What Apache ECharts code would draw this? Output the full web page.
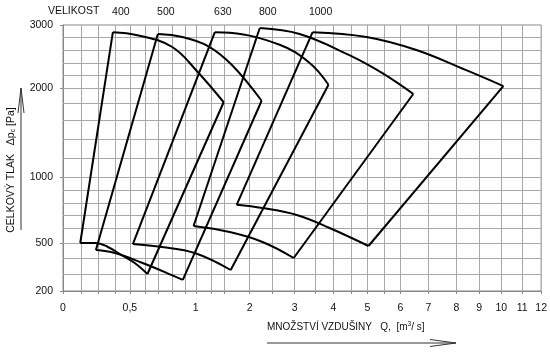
<!DOCTYPE html>
<html>
<head>
<meta charset="utf-8">
<script src="https://cdn.jsdelivr.net/npm/echarts@6/dist/echarts.min.js"></script>
<style>
html,body{margin:0;padding:0;background:#fff;}
#main{width:550px;height:352px;}
</style>
</head>
<body>
<div id="main"></div>
<script>
// velikost (fan size)
const sizes = ['400', '500', '630', '800', '1000'];

// [Q m3/s, dp Pa]  top curve: from top-left corner to right corner
const top400 = [[0.36, 2880], [0.55, 2830], [0.8, 2650], [1.03, 2250], [1.48, 1810]];
const top500 = [[0.7, 2850], [0.88, 2800], [1.19, 2660], [1.64, 2370], [2.26, 1830]];
const top630 = [[1.31, 2880], [1.6, 2870], [2.66, 2680], [3.36, 2400], [3.86, 2050]];
const top800 = [[2.22, 2950], [3.12, 2850], [4.44, 2520], [5.44, 2230], [6.46, 1920]];
const top1000 = [[3.43, 2880], [4.97, 2800], [6.57, 2600], [8.43, 2280], [10.1, 2030]];

// bottom curve: from bottom corner to bottom-left corner
const bottom400 = [[0.62, 300], [0.53, 370], [0.43, 420], [0.32, 475], [0.235, 500], [0.12, 500]];
const bottom500 = [[0.885, 265], [0.75, 312], [0.58, 370], [0.375, 433], [0.235, 453]];
const bottom630 = [[1.62, 325], [0.99, 433], [0.73, 473], [0.52, 493]];
const bottom800 = [[2.98, 400], [2.28, 507], [1.6, 573], [0.98, 615]];
const bottom1000 = [[5.03, 480], [3.89, 600], [3.05, 700], [2.28, 758], [1.74, 785]];

const tops = [top400, top500, top630, top800, top1000];
const bottoms = [bottom400, bottom500, bottom630, bottom800, bottom1000];

// axis ticks / labels
const qTicks = [0, 0.5, 1, 2, 3, 4, 5, 6, 7, 8, 9, 10, 11, 12];
const qLabels = ['0', '0,5', '1', '2', '3', '4', '5', '6', '7', '8', '9', '10', '11', '12'];
const pTicks = [200, 500, 1000, 2000, 3000];
const qGrid = [0.125, 0.25, 0.375, 0.5, 0.6, 0.7, 0.8, 0.9, 1, 1.25, 1.5, 2, 2.5, 3, 3.5, 4, 4.5, 5, 5.5, 6, 7, 8, 9, 10, 11];
const pGrid = [300, 400, 500, 600, 700, 800, 900, 1000, 1200, 1400, 1600, 1800, 2000, 2200, 2400, 2600, 2800];

// the paper scale is neither linear nor log: [value, axis unit]
const qScale = [[0,0],[0.125,18],[0.25,35],[0.375,52],[0.5,67],[0.6,82],[0.7,95],[0.8,109],[0.9,122],[1,133],
    [1.25,149],[1.5,162],[2,187],[2.5,210],[3,232],[3.5,253],[4,271],[4.5,289],[5,305],[5.5,322],[6,338],
    [7,366],[8,394],[9,417],[10,439],[11,460],[12,479]];
const pScale = [[200,0],[300,17],[400,33],[500,48],[600,63],[700,76],[800,88],[900,101],[1000,114],
    [1200,133],[1400,152],[1600,171],[1800,188],[2000,203],[2200,216],[2400,228],[2600,241],[2800,254],[3000,266]];

const interp = (scale, v) => {
    for (let i = 1; i < scale.length; i++) {
        let [v0, a0] = scale[i - 1], [v1, a1] = scale[i];
        if (v <= v1) return a0 + (v - v0) / (v1 - v0) * (a1 - a0);
    }
    return scale[scale.length - 1][1];
};
const toAxis = ([q, p]) => [interp(qScale, q), interp(pScale, p)];

const qLabelAt = {};
qTicks.forEach((v, i) => { qLabelAt[interp(qScale, v)] = qLabels[i]; });
const pLabelAt = {};
pTicks.forEach(v => { pLabelAt[interp(pScale, v)] = String(v); });

const font = '"Liberation Sans", Arial, sans-serif';

let series = [{
    type: 'line',
    data: [],
    z: 1,
    silent: true,
    markLine: {
        z: 1,
        silent: true,
        symbol: 'none',
        animation: false,
        label: {show: false},
        lineStyle: {color: '#a8a8a8', width: 1, type: 'solid'},
        data: [
            ...qGrid.map(v => ({xAxis: interp(qScale, v)})),
            ...pGrid.map(v => ({yAxis: interp(pScale, v)}))
        ]
    }
}];

let sides = [];
sizes.forEach((s, i) => {
    let t = tops[i], b = bottoms[i];
    series.push({
        type: 'line', name: s + ' top', data: t.map(toAxis), smooth: 0.4,
        symbol: 'none', lineStyle: {color: '#000', width: 2}, z: 10
    });
    series.push({
        type: 'line', name: s + ' bottom', data: b.map(toAxis), smooth: 0.4,
        symbol: 'none', lineStyle: {color: '#000', width: 2}, z: 10
    });
    sides.push({coords: [toAxis(b[b.length - 1]), toAxis(t[0])]});
    sides.push({coords: [toAxis(t[t.length - 1]), toAxis(b[0])]});
});
series.push({
    type: 'lines', coordinateSystem: 'cartesian2d', data: sides,
    lineStyle: {color: '#000', width: 2, opacity: 1}, z: 10, silent: true
});

let chart = echarts.init(document.getElementById('main'));
chart.setOption({
    animation: false,
    backgroundColor: '#fff',
    grid: {left: 63, top: 25, width: 479, height: 266, show: true, borderColor: '#888', borderWidth: 1},
    xAxis: {
        type: 'value', min: 0, max: 479,
        splitLine: {show: false},
        axisLine: {show: true, lineStyle: {color: '#888'}},
        axisTick: {show: true, length: 3, lineStyle: {color: '#888'},
            customValues: [0, ...qGrid, 12].map(v => interp(qScale, v))},
        axisLabel: {
            customValues: qTicks.map(v => interp(qScale, v)),
            formatter: v => qLabelAt[v] || '',
            color: '#111', fontFamily: font, fontSize: 10.5, margin: 12
        }
    },
    yAxis: {
        type: 'value', min: 0, max: 266,
        splitLine: {show: false},
        axisLine: {show: true, lineStyle: {color: '#888'}},
        axisTick: {show: true, length: 3, lineStyle: {color: '#888'},
            customValues: pTicks.map(v => interp(pScale, v))},
        axisLabel: {
            customValues: pTicks.map(v => interp(pScale, v)),
            formatter: v => pLabelAt[v] || '',
            color: '#111', fontFamily: font, fontSize: 10.5, margin: 10
        }
    },
    series: series
});

// size labels above each curve's top-left corner
let graphics = [{
    type: 'text', left: 48, top: 6,
    style: {text: 'VELIKOST', fill: '#111', font: '10.5px ' + font}
}];
sizes.forEach((s, i) => {
    let px = chart.convertToPixel({gridIndex: 0}, toAxis(tops[i][0]));
    graphics.push({
        type: 'text', x: px[0] + 8, y: 12,
        style: {text: s, fill: '#111', font: '10.5px ' + font, align: 'center', verticalAlign: 'middle'}
    });
});
graphics.push(
    {
        type: 'text', x: 11, y: 170, rotation: Math.PI / 2,
        style: {
            text: '{a|CELKOVÝ TLAK   Δp}{s|c}{a| [Pa]}',
            align: 'center', verticalAlign: 'middle', fill: '#111',
            rich: {
                a: {fontFamily: font, fontSize: 10.5, fill: '#111'},
                s: {fontFamily: font, fontSize: 7, fill: '#111', padding: [5, 0, 0, 0]}
            }
        }
    },
    {type: 'polyline', shape: {points: [[21, 230], [21, 88]]}, style: {stroke: '#333', lineWidth: 1}},
    {type: 'polyline', shape: {points: [[18, 113], [21, 88], [24, 113]]}, style: {stroke: '#333', lineWidth: 1, fill: null}},
    {
        type: 'text', left: 267, top: 321,
        style: {
            text: '{a|MNOŽSTVÍ VZDUŠINY   Q,  [m}{s|3}{a|/ s]}',
            fill: '#111',
            rich: {
                a: {fontFamily: font, fontSize: 10, fill: '#111'},
                s: {fontFamily: font, fontSize: 6.5, fill: '#111', padding: [0, 0, 5, 0]}
            }
        }
    },
    {type: 'polyline', shape: {points: [[267, 343], [456, 343]]}, style: {stroke: '#333', lineWidth: 1}},
    {type: 'polyline', shape: {points: [[430, 339.5], [456, 343], [430, 346.5]]}, style: {stroke: '#333', lineWidth: 1, fill: null}}
);
chart.setOption({graphic: graphics});
</script>
</body>
</html>
